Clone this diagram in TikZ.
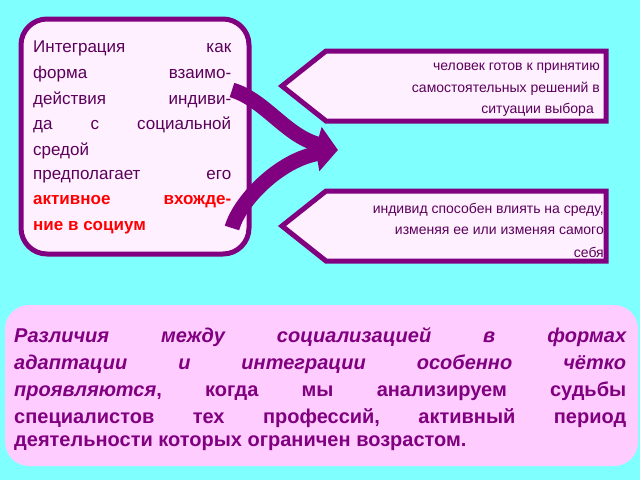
\documentclass[tikz,border=0pt]{standalone}
\usepackage{fontspec}
\setmainfont{Liberation Sans}
\usetikzlibrary{arrows.meta}
\definecolor{bg}{HTML}{80FFFF}
\definecolor{pur}{HTML}{800080}
\definecolor{dpur}{HTML}{5A005A}
\definecolor{lpink}{HTML}{FFF0FF}
\definecolor{pink}{HTML}{FFCCFF}
\tikzset{
  frame/.style={draw=pur,line width=5pt,fill=lpink},
  arr/.style={draw=pur,line width=15pt,-{Triangle[length=22pt,width=34pt]}},
  lt/.style={anchor=west,inner sep=0pt,font=\fontsize{17}{20}\selectfont,text=dpur},
  rt/.style={anchor=east,inner sep=0pt,font=\fontsize{14}{16}\selectfont,text=dpur},
  bt/.style={anchor=west,inner sep=0pt,font=\bfseries\fontsize{20}{24}\selectfont,text=pur},
}
\newcommand{\jline}[2]{\hbox to #1pt{#2}}
\begin{document}
\begin{tikzpicture}[x=1pt,y=-1pt]
\fill[bg] (0,0) rectangle (640,480);
\useasboundingbox (0,0) rectangle (640,480);
% left box
\draw[frame,rounded corners=26pt] (21,19) rectangle (249,254);
\node[lt] (l1) at (33,48) {\jline{198}{Интеграция\hfill как}};
\node[lt] (l2) at (33,74) {\jline{198}{форма\hfill взаимо-}};
\node[lt] (l3) at (33,100) {\jline{198}{действия\hfill индиви-}};
\node[lt] (l4) at (33,125) {\jline{198}{да\hfill с\hfill социальной}};
\node[lt] (l5) at (33,151) {средой};
\node[lt] (l6) at (33,177) {\jline{198}{предполагает\hfill его}};
\node[lt,text=red] (l7) at (33,202) {\jline{198}{\bfseries активное\hfill вхожде-}};
\node[lt,text=red,font=\bfseries\fontsize{17}{20}\selectfont] (l8) at (33,228) {ние в социум};
% right boxes
\draw[frame] (606,51) -- (606,121) -- (326,121) -- (282,86) -- (326,51) -- cycle;
\draw[frame] (606,191) -- (606,261) -- (326,261) -- (282,226) -- (326,191) -- cycle;
% arrows
\coordinate (a1s) at (232,90);
\coordinate (a2s) at (232,228);
\coordinate (tip) at (338,150);
\draw[arr] (a1s) .. controls (265,100) and (285,135) .. (tip);
\draw[arr] (a2s) .. controls (240,200) and (280,160) .. (tip);
\node[rt] (r1) at (600,68) {человек готов к принятию};
\node[rt] (r2) at (600,89) {самостоятельных решений в};
\node[rt] (r3) at (594,110) {ситуации выбора};
\node[rt] (r4) at (604,210) {индивид способен влиять на среду,};
\node[rt] (r5) at (604,231) {изменяя ее или изменяя самого};
\node[rt] (r6) at (604,252) {себя};
% bottom box
\fill[pink,rounded corners=24pt] (5,305) rectangle (638,466);
\node[bt] (b1) at (14,337) {\jline{612}{\itshape Различия\hfill между\hfill социализацией\hfill в\hfill формах}};
\node[bt] (b2) at (14,364) {\jline{612}{\itshape адаптации\hfill и\hfill интеграции\hfill особенно\hfill чётко}};
\node[bt] (b3) at (14,391) {\jline{612}{\textit{проявляются},\hfill когда\hfill мы\hfill анализируем\hfill судьбы}};
\node[bt] (b4) at (14,418) {\jline{612}{специалистов\hfill тех\hfill профессий,\hfill активный\hfill период}};
\node[bt] (b5) at (14,443) {деятельности которых ограничен возрастом.};
\end{tikzpicture}
\end{document}
